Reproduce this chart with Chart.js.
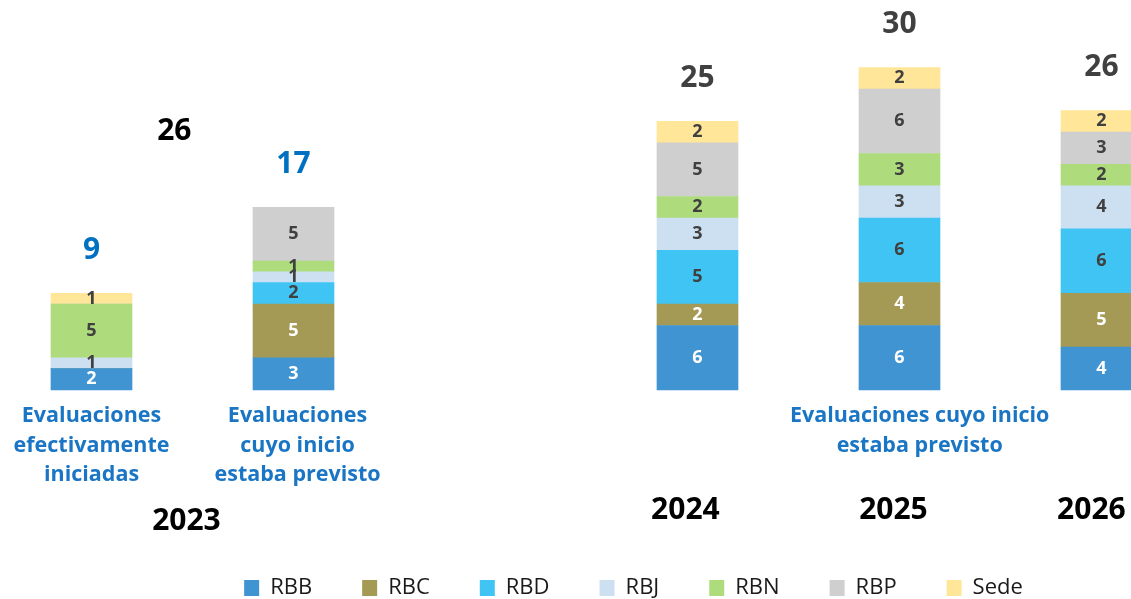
<!DOCTYPE html>
<html>
<head>
<meta charset="utf-8">
<script src="https://cdn.jsdelivr.net/npm/chart.js@4.4.1/dist/chart.umd.min.js"></script>
<style>
  html, body { margin: 0; padding: 0; background: #fff; overflow: hidden; }
</style>
</head>
<body>
<canvas id="evalChart" width="1131" height="599"></canvas>
<script>
// position of each bar on the x axis (slot 2 is the gap between 2023 and 2024)
const slots = [0, 1, 3, 4, 5];
const seriesNames = ['RBB', 'RBC', 'RBD', 'RBJ', 'RBN', 'RBP', 'Sede'];
const rbb  = [2, 3, 6, 6, 4];
const rbc  = [0, 5, 2, 4, 5];
const rbd  = [0, 2, 5, 6, 6];
const rbj  = [1, 1, 3, 3, 4];
const rbn  = [5, 1, 2, 3, 2];
const rbp  = [0, 5, 5, 6, 3];
const sede = [1, 0, 2, 2, 2];
const colors = ['#3F94D1', '#A59A55', '#40C4F4', '#CCE0F2', '#AEDC7C', '#CFCFCF', '#FFE699'];
const valueColors = ['#ffffff', '#ffffff', '#404040', '#404040', '#404040', '#404040', '#404040'];
const totalColors = ['#0070C0', '#0070C0', '#404040', '#404040', '#404040'];

// category captions under the bars
const catLabels = [
  ['Evaluaciones', 'efectivamente', 'iniciadas'],
  ['Evaluaciones', 'cuyo inicio', 'estaba previsto'],
  ['Evaluaciones cuyo inicio', 'estaba previsto']
];
const catX = [0, 1.02, 4.1];
const years = ['2023', '2024', '2025', '2026'];
const yearX = [0.47, 2.94, 3.97, 4.95];

const allSeries = [rbb, rbc, rbd, rbj, rbn, rbp, sede];
const totals = slots.map((s, i) => allSeries.reduce((a, arr) => a + arr[i], 0));
const total2023 = totals[0] + totals[1];

// layout constants
const FONT = '"Open Sans", "Noto Sans", sans-serif';
const PAD_LEFT = 136;
const SLOT_PX = 202, FIRST_X = 91.5;
const LEGEND_PAD = 50, LEGEND_H = 72;
const PX_UNIT = 10.75, BASE_Y = 390, AREA_BOTTOM = 599 - LEGEND_H;
const xMin = (PAD_LEFT - FIRST_X) / SLOT_PX;
const xMax = xMin + (1131 - PAD_LEFT) / SLOT_PX;
const yMin = -(AREA_BOTTOM - BASE_Y) / PX_UNIT;
const yMax = yMin + AREA_BOTTOM / PX_UNIT;

const labelsPlugin = {
  id: 'labels',
  afterDatasetsDraw(chart) {
    const ctx = chart.ctx;
    const xs = chart.scales.x;
    const base = chart.scales.y.getPixelForValue(0);
    ctx.save();
    ctx.textAlign = 'center';
    ctx.textBaseline = 'middle';

    // values inside the segments
    ctx.font = 'bold 18px ' + FONT;
    chart.data.datasets.forEach((ds, i) => {
      chart.getDatasetMeta(i).data.forEach((bar, j) => {
        const v = ds.data[j].y;
        if (!v) return;
        ctx.fillStyle = valueColors[i];
        ctx.fillText(v, bar.x, (bar.y + bar.base) / 2);
      });
    });

    // totals above each bar
    ctx.font = 'bold 30px ' + FONT;
    slots.forEach((s, j) => {
      let top = base;
      chart.data.datasets.forEach((ds, i) => {
        const bar = chart.getDatasetMeta(i).data[j];
        if (ds.data[j].y) top = Math.min(top, bar.y);
      });
      ctx.fillStyle = totalColors[j];
      ctx.fillText(totals[j], xs.getPixelForValue(s), top - 43);
    });
    ctx.fillStyle = '#000000';
    ctx.fillText(total2023, xs.getPixelForValue(0.41), base - 259);

    // captions
    ctx.font = 'bold 21.5px ' + FONT;
    ctx.fillStyle = '#1A75C4';
    catLabels.forEach((lines, k) => {
      lines.forEach((t, n) => {
        ctx.fillText(t, xs.getPixelForValue(catX[k]), base + 26 + n * 29.5);
      });
    });

    // years
    ctx.font = 'bold 30px ' + FONT;
    ctx.fillStyle = '#000000';
    years.forEach((t, k) => {
      ctx.fillText(t, xs.getPixelForValue(yearX[k]), base + (k === 0 ? 131 : 120));
    });
    ctx.restore();
  }
};

new Chart(document.getElementById('evalChart'), {
  type: 'bar',
  data: {
    datasets: allSeries.map((arr, i) => ({
      label: seriesNames[i],
      data: arr.map((v, j) => ({ x: slots[j], y: v })),
      backgroundColor: colors[i],
      borderWidth: 0,
      barThickness: 81,
      clip: false
    }))
  },
  options: {
    responsive: false,
    animation: false,
    layout: { padding: { left: PAD_LEFT, right: 0, top: 0, bottom: 0 } },
    scales: {
      x: { type: 'linear', stacked: true, offset: false, min: xMin, max: xMax, display: false },
      y: { stacked: true, min: yMin, max: yMax, display: false }
    },
    plugins: {
      legend: {
        position: 'bottom',
        maxHeight: LEGEND_H,
        labels: {
          boxWidth: 15,
          boxHeight: 16,
          padding: LEGEND_PAD,
          color: '#1a1a1a',
          font: { family: FONT, size: 22 }
        }
      },
      tooltip: { enabled: false }
    }
  },
  plugins: [labelsPlugin]
});
</script>
</body>
</html>
